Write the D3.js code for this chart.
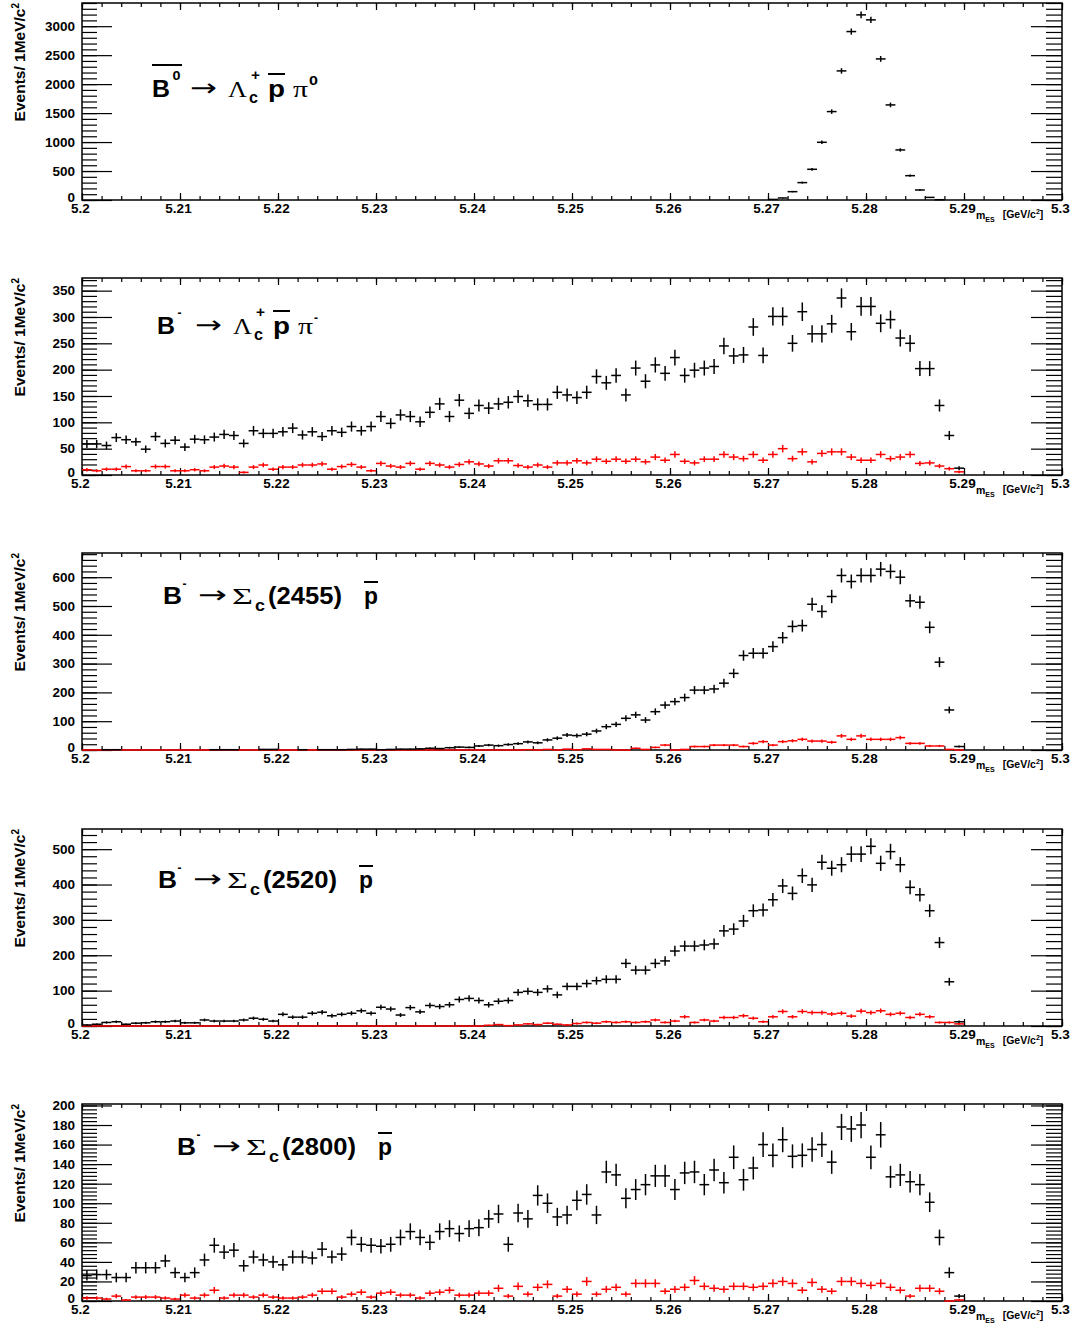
<!DOCTYPE html>
<html>
<head>
<meta charset="utf-8">
<script src="https://cdn.jsdelivr.net/npm/d3@7"></script>
<style>
  body { margin: 0; background: #fff; }
</style>
</head>
<body>
<div id="chart"></div>
<script>
// m_ES spectra, 1 MeV/c^2 bins starting at 5.200 GeV/c^2 (90 bins, up to 5.290)
const massRange = [5.2, 5.3];
const binWidth = 0.001;
const massTicks = [5.2, 5.21, 5.22, 5.23, 5.24, 5.25, 5.26, 5.27, 5.28, 5.29, 5.3];

// B0bar -> Lc+ pbar pi0 (signal MC, no sideband)
const b0LcPPi0 = [
  0, 0, 0, 0, 0, 0, 0, 0, 0, 0,
  0, 0, 0, 0, 0, 0, 0, 0, 0, 0,
  0, 0, 0, 0, 0, 0, 0, 0, 0, 0,
  0, 0, 0, 0, 0, 0, 0, 0, 0, 0,
  0, 0, 0, 0, 0, 0, 0, 0, 0, 0,
  0, 0, 0, 0, 0, 0, 0, 0, 0, 0,
  0, 0, 0, 0, 0, 0, 0, 0, 0, 0,
  10, 35, 144, 300, 530, 996, 1526, 2228, 2907, 3195,
  3109, 2435, 1641, 864, 420, 173, 45, 5, 0, 0
];

// B- -> Lc+ pbar pi-
const bmLcPPi = [
  59, 59, 56, 71, 67, 63, 49, 73, 60, 66,
  53, 68, 67, 72, 77, 75, 60, 84, 79, 79,
  82, 89, 76, 82, 73, 84, 81, 92, 84, 92,
  111, 98, 114, 111, 101, 119, 135, 111, 142, 117,
  132, 127, 135, 138, 149, 141, 134, 134, 157, 152,
  147, 157, 187, 175, 189, 152, 203, 178, 209, 193,
  223, 189, 199, 203, 206, 245, 226, 228, 281, 227,
  301, 301, 250, 310, 268, 268, 287, 336, 272, 320,
  320, 288, 295, 260, 250, 202, 202, 132, 75, 13
];
const bmLcPPiSideband = [
  10, 8, 11, 11, 16, 8, 8, 16, 16, 8,
  8, 10, 8, 15, 17, 15, 5, 15, 19, 11,
  15, 15, 19, 19, 21, 11, 16, 20, 15, 8,
  22, 17, 15, 22, 11, 22, 19, 15, 20, 25,
  21, 17, 27, 27, 18, 15, 19, 15, 23, 23,
  27, 23, 30, 26, 30, 26, 30, 25, 34, 28,
  39, 26, 23, 30, 30, 39, 34, 31, 39, 28,
  39, 50, 31, 44, 25, 41, 44, 44, 34, 28,
  28, 39, 31, 34, 39, 22, 23, 17, 12, 6
];

// B- -> Sigma_c(2455) pbar
const bmSc2455 = [
  0, 0, 1, 1, 0, 0, 0, 0, 0, 0,
  0, 0, 0, 1, 1, 1, 0, 0, 2, 2,
  0, 0, 1, 0, 1, 1, 1, 2, 3, 3,
  1, 2, 3, 3, 4, 6, 5, 8, 10, 9,
  14, 17, 15, 19, 22, 28, 25, 35, 41, 52,
  50, 55, 66, 81, 89, 110, 122, 104, 133, 156,
  168, 182, 208, 208, 212, 232, 266, 328, 336, 336,
  359, 390, 429, 432, 506, 481, 533, 606, 585, 606,
  606, 628, 620, 600, 518, 513, 426, 305, 139, 12
];
const bmSc2455Sideband = [
  0, 0, 0, 0, 0, 0, 0, 0, 0, 0,
  0, 0, 0, 0, 0, 0, 0, 0, 0, 0,
  0, 0, 0, 0, 0, 0, 0, 0, 0, 0,
  0, 0, 0, 0, 0, 0, 0, 0, 0, 0,
  0, 0, 0, 0, 0, 1, 0, 2, 0, 3,
  1, 4, 2, 2, 0, 0, 6, 2, 9, 17,
  0, 2, 12, 12, 17, 17, 17, 12, 23, 29,
  17, 29, 32, 37, 31, 31, 27, 49, 37, 49,
  37, 37, 37, 43, 23, 23, 14, 14, 2, 0
];

// B- -> Sigma_c(2520) pbar
const bmSc2520 = [
  3, 5, 10, 12, 5, 8, 9, 12, 12, 14,
  9, 9, 17, 14, 14, 14, 17, 22, 19, 14,
  33, 25, 25, 36, 39, 29, 33, 36, 43, 36,
  53, 48, 31, 52, 40, 58, 55, 60, 75, 78,
  72, 60, 70, 72, 95, 98, 95, 105, 88, 112,
  112, 120, 128, 132, 132, 177, 158, 158, 177, 184,
  212, 226, 226, 229, 232, 269, 274, 297, 326, 328,
  357, 396, 375, 425, 399, 463, 446, 456, 486, 486,
  508, 460, 493, 456, 392, 371, 326, 236, 125, 12
];
const bmSc2520Sideband = [
  0, 0, 0, 0, 0, 0, 0, 0, 0, 0,
  0, 0, 0, 0, 0, 0, 0, 0, 0, 0,
  0, 0, 0, 0, 0, 0, 0, 0, 0, 0,
  0, 0, 0, 0, 0, 0, 0, 0, 0, 0,
  0, 2, 4, 1, 3, 6, 4, 8, 5, 3,
  7, 10, 8, 12, 10, 12, 10, 12, 17, 10,
  14, 26, 10, 17, 14, 24, 24, 29, 22, 12,
  26, 41, 26, 41, 38, 38, 34, 36, 28, 42,
  38, 43, 33, 36, 24, 33, 26, 10, 10, 6
];

// B- -> Sigma_c(2800) pbar
const bmSc2800 = [
  26, 27, 27, 24, 24, 34, 34, 34, 41, 29,
  24, 29, 42, 57, 50, 52, 36, 45, 42, 40,
  37, 45, 45, 44, 53, 45, 48, 65, 58, 57,
  56, 58, 65, 71, 65, 60, 71, 74, 69, 74,
  75, 84, 89, 58, 90, 84, 108, 100, 86, 88,
  103, 109, 88, 132, 129, 105, 114, 119, 128, 128,
  114, 131, 132, 119, 134, 121, 147, 124, 136, 160,
  149, 165, 148, 149, 155, 160, 142, 178, 176, 180,
  147, 170, 127, 129, 122, 119, 101, 65, 29, 5
];
const bmSc2800Sideband = [
  3, 3, 2, 5, 1, 4, 4, 4, 3, 2,
  6, 3, 6, 11, 3, 6, 6, 4, 6, 4,
  3, 3, 4, 6, 10, 10, 4, 7, 9, 4,
  8, 9, 6, 6, 3, 8, 9, 11, 6, 6,
  8, 8, 13, 5, 15, 7, 14, 17, 5, 12,
  7, 20, 7, 12, 14, 7, 18, 18, 18, 10,
  12, 14, 21, 15, 13, 12, 15, 15, 14, 15,
  18, 20, 18, 11, 19, 12, 10, 20, 20, 18,
  16, 18, 14, 11, 5, 13, 13, 10, 0, 1
];

const yTicks1 = [0, 500, 1000, 1500, 2000, 2500, 3000];
const yTicks2 = [0, 50, 100, 150, 200, 250, 300, 350];
const yTicks3 = [0, 100, 200, 300, 400, 500, 600];
const yTicks4 = [0, 100, 200, 300, 400, 500];
const yTicks5 = [0, 20, 40, 60, 80, 100, 120, 140, 160, 180, 200];

// ---- layout
const width = 1075, height = 1328;
const frameLeft = 82, frameRight = 1062, panelHeight = 197;
const SANS = '"Liberation Sans", Arial, Helvetica, sans-serif';
const SYM = '"Liberation Serif", "DejaVu Serif", serif';
const ARROW = '"DejaVu Sans", sans-serif';

// title pieces: x offset, baseline offset, font size, width to fit
function lambdaTitle(bCharge, piCharge, bBar) {
  return [
    { t: 'B', x: 0, w: 18 },
    { t: bCharge, x: 20.5, dy: -17, size: 12, w: bCharge === '0' ? 8 : 4 },
    { t: '\u2192', x: 38, dy: -1, font: ARROW, w: 27 },
    { t: '\u039B', x: 76, sym: true, w: 19 },
    { t: 'c', x: 97, dy: 6, size: 17, w: 9 },
    { t: '+', x: 99, dy: -17, size: 15, w: 9 },
    { t: 'p', x: 116, w: 17, bar: [0, 17, -23] },
    { t: '\u03C0', x: 141, sym: true, w: 15 },
    { t: piCharge, x: 157, dy: -12, size: 12, w: piCharge === '0' ? 9 : 4 }
  ].map((p, i) => (i === 0 && bBar ? { ...p, bar: [0, 30, -32] } : p));
}
function sigmaTitle(state) {
  return [
    { t: 'B', x: 0, w: 19 },
    { t: '-', x: 19.5, dy: -16, size: 12, w: 4 },
    { t: '\u2192', x: 35, dy: -1, font: ARROW, w: 29 },
    { t: '\u03A3', x: 69, sym: true, w: 21 },
    { t: 'c', x: 92, dy: 7, size: 17, w: 10 },
    { t: '(' + state + ')', x: 105, w: 74 },
    { t: 'p', x: 201, w: 14, bar: [0, 14, -22] }
  ];
}

const panels = [
  { top: 3, signal: b0LcPPi0, sideband: null, yMax: 3400, yTicks: yTicks1, yMinor: 100,
    title: lambdaTitle('0', '0', true), titleX: 152, titleY: 94 },
  { top: 278, signal: bmLcPPi, sideband: bmLcPPiSideband, yMax: 374, yTicks: yTicks2, yMinor: 10,
    title: lambdaTitle('-', '-', false), titleX: 157, titleY: 56 },
  { top: 553, signal: bmSc2455, sideband: bmSc2455Sideband, yMax: 684, yTicks: yTicks3, yMinor: 20,
    title: sigmaTitle('2455'), titleX: 163, titleY: 51 },
  { top: 829, signal: bmSc2520, sideband: bmSc2520Sideband, yMax: 557, yTicks: yTicks4, yMinor: 20,
    title: sigmaTitle('2520'), titleX: 158, titleY: 59 },
  { top: 1104, signal: bmSc2800, sideband: bmSc2800Sideband, yMax: 201.5, yTicks: yTicks5, yMinor: 4,
    title: sigmaTitle('2800'), titleX: 177, titleY: 51 }
];

const svg = d3.select('#chart').append('svg')
  .attr('width', width)
  .attr('height', height)
  .attr('viewBox', [0, 0, width, height])
  .style('font-family', SANS)
  .style('font-weight', 'bold');

const x = d3.scaleLinear().domain(massRange).range([frameLeft, frameRight]);
const minorMass = d3.range(5.2, 5.3 + 1e-9, 0.002);

panels.forEach((p, k) => {
  const bottom = p.top + panelHeight;
  const y = d3.scaleLinear().domain([0, p.yMax]).range([bottom, p.top]);
  const minorY = d3.range(0, p.yMax + 1e-9, p.yMinor);
  const g = svg.append('g');

  // ticks: left (labelled), right mirror, bottom (labelled), top mirror
  const tickAxis = (axis, tr, vals, size, labels) => {
    const a = g.append('g')
      .attr('transform', tr)
      .call(axis.tickValues(vals).tickSizeInner(size).tickSizeOuter(0)
        .tickPadding(labels ? 3 : 0)
        .tickFormat(labels ? (d => String(d)) : ''));
    a.attr('font-family', null).attr('font-size', null);
    a.select('.domain').remove();
    a.selectAll('line').attr('stroke', '#000').attr('stroke-width', 1.2);
    a.selectAll('text').style('font-size', '13.5px').attr('fill', '#000');
    return a;
  };
  tickAxis(d3.axisLeft(y), `translate(${frameLeft},0)`, minorY, -15, false);
  const yl = tickAxis(d3.axisLeft(y), `translate(${frameLeft},0)`, p.yTicks, -30, true);
  yl.selectAll('text').attr('x', -7).attr('y', d => (d === 0 ? -3 : 0));
  tickAxis(d3.axisRight(y), `translate(${frameRight},0)`, minorY, -16, false);
  tickAxis(d3.axisRight(y), `translate(${frameRight},0)`, p.yTicks, -31, false);
  tickAxis(d3.axisBottom(x), `translate(0,${bottom})`, minorMass, -4, false);
  const xl = tickAxis(d3.axisBottom(x), `translate(0,${bottom})`, massTicks, -7, true);
  xl.selectAll('text').attr('y', 3).attr('dy', '0.71em').attr('dx', -2);
  tickAxis(d3.axisTop(x), `translate(0,${p.top})`, minorMass, -4, false);
  tickAxis(d3.axisTop(x), `translate(0,${p.top})`, massTicks, -7, false);

  // frame
  g.append('rect')
    .attr('x', frameLeft).attr('y', p.top)
    .attr('width', frameRight - frameLeft).attr('height', panelHeight)
    .attr('fill', 'none').attr('stroke', '#000').attr('stroke-width', 1.5);

  // axis titles
  const yt = g.append('text')
    .attr('transform', `translate(25,${p.top}) rotate(-90)`)
    .attr('text-anchor', 'end')
    .style('font-size', '15.5px');
  yt.append('tspan').text('Events/ 1MeV/c');
  yt.append('tspan').style('font-size', '10px').attr('dy', -6).text('2');

  const xt = g.append('text')
    .attr('x', 976).attr('y', bottom + 19)
    .style('font-size', '10.5px');
  xt.append('tspan').text('m');
  xt.append('tspan').style('font-size', '7px').attr('dy', 3).text('ES');
  xt.append('tspan').attr('dy', -4).attr('dx', 8).text('[GeV/c');
  xt.append('tspan').style('font-size', '7px').attr('dy', -4).text('2');
  xt.append('tspan').attr('dy', 4).text(']');

  // decay title, each piece squeezed to its width in the picture
  const tg = g.append('g').attr('transform', `translate(${p.titleX},${p.top + p.titleY})`);
  p.title.forEach(piece => {
    const t = tg.append('text')
      .style('font-size', (piece.size || 24) + 'px')
      .style('font-family', piece.font || (piece.sym ? SYM : SANS))
      .style('font-weight', piece.sym || piece.font ? 'normal' : 'bold')
      .text(piece.t);
    const len = t.node().getComputedTextLength() || piece.w;
    t.attr('transform', `translate(${piece.x},${piece.dy || 0}) scale(${piece.w / len},1)`);
    if (piece.bar) {
      tg.append('line')
        .attr('x1', piece.x + piece.bar[0]).attr('x2', piece.x + piece.bar[1])
        .attr('y1', piece.bar[2]).attr('y2', piece.bar[2])
        .attr('stroke', '#000').attr('stroke-width', 2);
    }
  });

  // data
  const clipId = `clip${k}`;
  g.append('clipPath').attr('id', clipId)
    .append('rect')
    .attr('x', frameLeft).attr('y', p.top)
    .attr('width', frameRight - frameLeft).attr('height', panelHeight + 2);

  const drawSeries = (values, color, skipEmpty) => {
    const pts = values
      .map((v, i) => ({ lo: massRange[0] + i * binWidth, v }))
      .filter(d => !(skipEmpty && d.v === 0));
    const s = g.append('g')
      .attr('clip-path', `url(#${clipId})`)
      .attr('stroke', color)
      .attr('stroke-width', 1.5);
    s.selectAll('line.h').data(pts).join('line')
      .attr('class', 'h')
      .attr('x1', d => x(d.lo)).attr('x2', d => x(d.lo + binWidth))
      .attr('y1', d => y(d.v)).attr('y2', d => y(d.v));
    s.selectAll('line.v').data(pts.filter(d => d.v > 0)).join('line')
      .attr('class', 'v')
      .attr('x1', d => x(d.lo + binWidth / 2)).attr('x2', d => x(d.lo + binWidth / 2))
      .attr('y1', d => y(Math.max(0, d.v - Math.sqrt(d.v))))
      .attr('y2', d => y(d.v + Math.sqrt(d.v)));
  };
  if (p.sideband) drawSeries(p.sideband, '#ff0000', false);
  drawSeries(p.signal, '#000000', true);
});
</script>
</body>
</html>
